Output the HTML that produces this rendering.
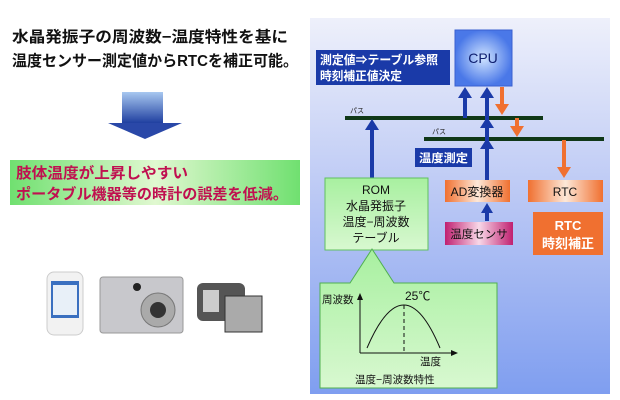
<!DOCTYPE html>
<html><head><meta charset="utf-8"><style>
html,body{margin:0;padding:0;background:#fff;width:620px;height:400px;overflow:hidden}
svg text{font-family:"Liberation Sans","Noto Sans CJK JP",sans-serif}
</style></head><body>
<svg width="620" height="400" viewBox="0 0 620 400" xmlns="http://www.w3.org/2000/svg">
<defs>
<linearGradient id="bg" x1="0" y1="0" x2="0" y2="1"><stop offset="0" stop-color="#eef0fb"/><stop offset="0.5" stop-color="#b8c6f4"/><stop offset="1" stop-color="#7f9ef0"/></linearGradient>
<linearGradient id="arr" x1="0" y1="0" x2="0" y2="1"><stop offset="0" stop-color="#a8c8f0"/><stop offset="1" stop-color="#2040a0"/></linearGradient>
<linearGradient id="gr" x1="0" y1="0" x2="1" y2="0"><stop offset="0" stop-color="#70e070"/><stop offset="0.5" stop-color="#e0f8d0"/><stop offset="1" stop-color="#70e070"/></linearGradient>
<radialGradient id="cpu"><stop offset="0" stop-color="#d0e4ff"/><stop offset="1" stop-color="#4a78e8"/></radialGradient>
<linearGradient id="or" x1="0" y1="0" x2="1" y2="0"><stop offset="0" stop-color="#f07030"/><stop offset="0.5" stop-color="#fde8d8"/><stop offset="1" stop-color="#f07030"/></linearGradient>
<linearGradient id="mg" x1="0" y1="0" x2="1" y2="0"><stop offset="0" stop-color="#c02070"/><stop offset="0.5" stop-color="#f8d8e8"/><stop offset="1" stop-color="#c02070"/></linearGradient>
<linearGradient id="lg" x1="0" y1="0" x2="0" y2="1"><stop offset="0" stop-color="#a8f0a0"/><stop offset="1" stop-color="#d8f8d0"/></linearGradient>
</defs>
<text x="12" y="42" font-size="15.5" font-weight="bold" fill="#111" textLength="276" lengthAdjust="spacingAndGlyphs">水晶発振子の周波数−温度特性を基に</text>
<text x="12" y="66" font-size="15.5" font-weight="bold" fill="#111" textLength="286" lengthAdjust="spacingAndGlyphs">温度センサー測定値からRTCを補正可能。</text>
<rect x="122" y="92" width="41" height="31" fill="url(#arr)"/>
<polygon points="108,123 182,123 145,139" fill="#2a48a8"/>
<rect x="10" y="160" width="290" height="45" fill="url(#gr)"/>
<text x="16" y="178" font-size="15" font-weight="bold" fill="#c01050" textLength="172" lengthAdjust="spacingAndGlyphs">肢体温度が上昇しやすい</text>
<text x="16" y="199" font-size="15" font-weight="bold" fill="#c01050" textLength="272" lengthAdjust="spacingAndGlyphs">ポータブル機器等の時計の誤差を低減。</text>
<!-- devices -->
<rect x="47" y="272" width="36" height="63" rx="7" fill="#f2f2f2" stroke="#ccc"/>
<rect x="51" y="281" width="28" height="37" fill="#3a70c0"/><rect x="53" y="285" width="24" height="30" fill="#e8f0f8"/>
<rect x="100" y="277" width="83" height="56" rx="3" fill="#c8c8cc" stroke="#999"/>
<circle cx="158" cy="310" r="17" fill="#aaa" stroke="#777"/><circle cx="158" cy="310" r="8" fill="#333"/>
<circle cx="137" cy="287" r="4" fill="#222"/>
<rect x="197" y="283" width="48" height="38" rx="6" fill="#555"/><rect x="203" y="290" width="16" height="22" fill="#ccc"/>
<rect x="225" y="296" width="37" height="36" fill="#aaa" stroke="#333"/>
<!-- panel -->
<rect x="310" y="18" width="300" height="376" fill="url(#bg)"/>
<rect x="455" y="30" width="57" height="56" fill="url(#cpu)" stroke="#3a60d0"/>
<text x="483" y="63" font-size="14" text-anchor="middle" fill="#102070">CPU</text>
<rect x="316" y="50" width="134" height="35" fill="#1a3aa8"/>
<text x="320" y="64" font-size="12" font-weight="bold" fill="#fff" textLength="118" lengthAdjust="spacingAndGlyphs">測定値⇒テーブル参照</text>
<text x="320" y="80" font-size="12" font-weight="bold" fill="#fff" textLength="82" lengthAdjust="spacingAndGlyphs">時刻補正値決定</text>
<rect x="345" y="116" width="198" height="4" fill="#103818"/>
<text x="350" y="113" font-size="7" fill="#222">パス</text>
<rect x="424" y="137" width="180" height="4" fill="#103818"/>
<text x="432" y="134" font-size="7" fill="#222">パス</text>
<g fill="#1a3aa8" stroke="#1a3aa8">
<line x1="465" y1="118" x2="465" y2="97" stroke-width="4"/><polygon points="458,98 472,98 465,87" stroke="none"/>
<line x1="487" y1="180" x2="487" y2="97" stroke-width="4"/><polygon points="480,98 494,98 487,87" stroke="none"/>
<polygon points="480,128 494,128 487,117" stroke="none"/><polygon points="480,149 494,149 487,138" stroke="none"/>
<line x1="372" y1="178" x2="372" y2="129" stroke-width="4"/><polygon points="365,130 379,130 372,119" stroke="none"/>
<line x1="487" y1="221" x2="487" y2="212" stroke-width="4"/><polygon points="481,213 493,213 487,203" stroke="none"/>
</g>
<g fill="#f07030" stroke="#f07030">
<line x1="502" y1="87" x2="502" y2="105" stroke-width="4"/><polygon points="495,104 509,104 502,115" stroke="none"/>
<line x1="517" y1="118" x2="517" y2="126" stroke-width="4"/><polygon points="510,126 524,126 517,137" stroke="none"/>
<line x1="564" y1="140" x2="564" y2="168" stroke-width="4"/><polygon points="557,167 571,167 564,178" stroke="none"/>
</g>
<rect x="415" y="148" width="57" height="19" fill="#1a3aa8"/>
<text x="419" y="162" font-size="11.5" font-weight="bold" fill="#fff" textLength="49" lengthAdjust="spacingAndGlyphs">温度測定</text>
<rect x="325" y="178" width="103" height="72" fill="url(#lg)" stroke="#60c060"/>
<g font-size="12" text-anchor="middle" fill="#111">
<text x="376" y="194">ROM</text><text x="376" y="210">水晶発振子</text><text x="376" y="226">温度−周波数</text><text x="376" y="242">テーブル</text></g>
<rect x="445" y="180" width="65" height="22" fill="url(#or)"/>
<text x="477" y="196" font-size="12" text-anchor="middle" fill="#111">AD変換器</text>
<rect x="528" y="180" width="75" height="22" fill="url(#or)"/>
<text x="565" y="196" font-size="12" text-anchor="middle" fill="#111">RTC</text>
<rect x="445" y="222" width="68" height="23" fill="url(#mg)"/>
<text x="479" y="238" font-size="11.5" text-anchor="middle" fill="#111">温度センサ</text>
<rect x="533" y="212" width="70" height="43" fill="#f07030"/>
<text x="568" y="230" font-size="13" font-weight="bold" text-anchor="middle" fill="#fff">RTC</text>
<text x="568" y="248" font-size="13" font-weight="bold" text-anchor="middle" fill="#fff">時刻補正</text>
<path d="M320,283 L350,283 L372,249 L394,283 L497,283 L497,388 L320,388 Z" fill="url(#lg)" stroke="#50b050"/>
<line x1="360" y1="353" x2="360" y2="298" stroke="#111"/><polygon points="357,300 363,300 360,293" fill="#111"/>
<line x1="360" y1="353" x2="452" y2="353" stroke="#111"/><polygon points="451,350 451,356 458,353" fill="#111"/>
<path d="M367,348 Q404,262 440,348" fill="none" stroke="#111"/>
<line x1="404" y1="305" x2="404" y2="353" stroke="#111" stroke-dasharray="4,3"/>
<text x="322" y="303" font-size="10.5" fill="#111">周波数</text>
<text x="405" y="300" font-size="12" fill="#111">25℃</text>
<text x="420" y="365" font-size="10.5" fill="#111">温度</text>
<text x="355" y="383" font-size="10.5" fill="#111">温度−周波数特性</text>
</svg>
</body></html>
